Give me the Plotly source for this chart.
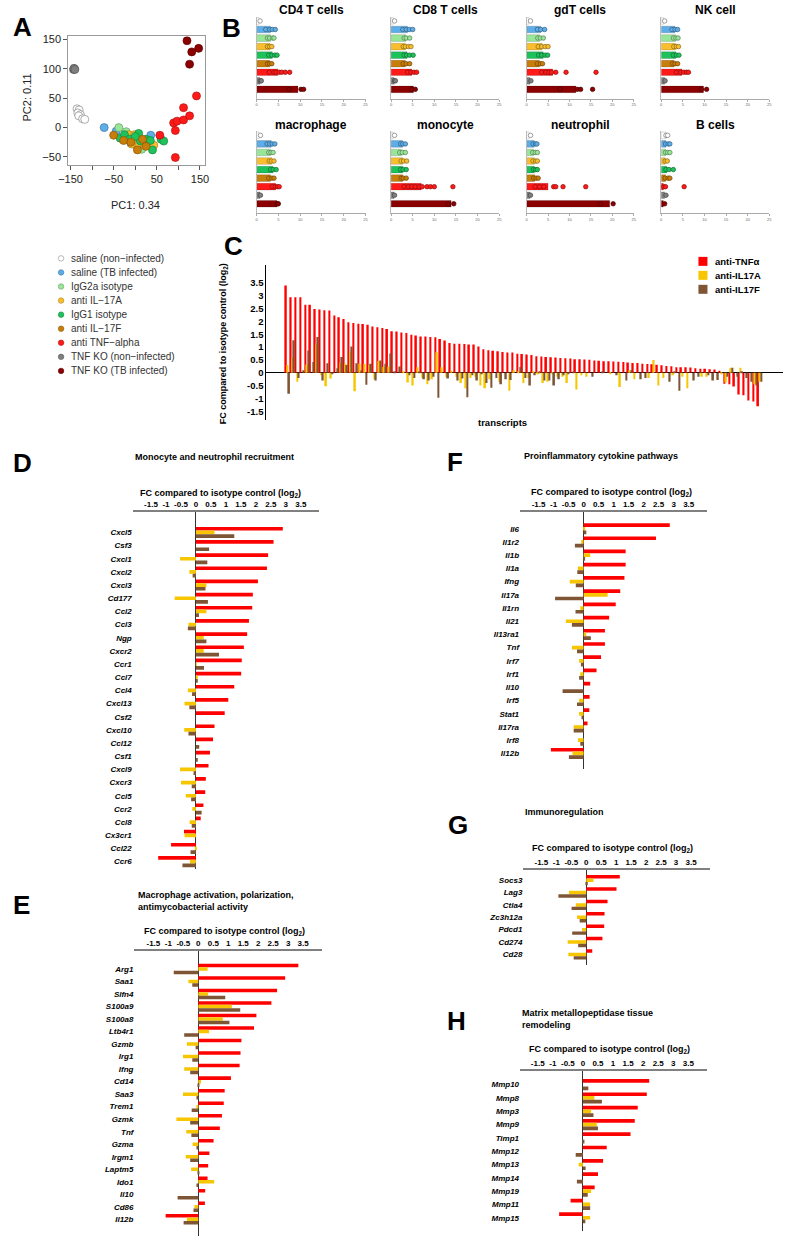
import plotly.graph_objects as go

W, H = 787, 1239
FONT = "Liberation Sans"

# ---------------- data ----------------
groups = ["saline (non−infected)", "saline (TB infected)", "IgG2a isotype", "anti IL−17A",
          "IgG1 isotype", "anti IL−17F", "anti TNF−alpha", "TNF KO (non−infected)",
          "TNF KO (TB infected)"]
group_colors = ["#FFFFFF", "#5DADE8", "#98E698", "#F8BE2E", "#1EC25A", "#C87E0A",
                "#FF1A1A", "#7F7F7F", "#8B0000"]

# Panel A: PCA scores per group
pc1 = [
    [-135, -130, -133, -127, -131, -122, -117],
    [-72, -44, 36, -10, 5, 10],
    [-38, -21, 15, 20, -5],
    [-23, -15, -2, 5, 12, 22, 43, -8, 28],
    [-35, -25, -13, 8, 12, 25, 35, 40, 60, 66, 0],
    [-50, -27, 5, 17, -10, 25],
    [57, 89, 97, 93, 112, 112, 126, 142, 93],
    [-143, -141, -142, -140],
    [120, 131, 147, 126],
]
pc2 = [
    [32, 30, 25, 22, 20, 15, 14],
    [0, -6, -13, -27, -33, -25],
    [0, -7, -37, -30, -20],
    [-18, -12, -12, -28, -22, -30, -30, -28, -25],
    [-18, -12, -20, -10, -23, -20, -22, -38, -20, -23, -15],
    [-13, -22, -38, -20, -25, -32],
    [-13, 8, 11, -5, 34, 13, 20, 54, -51],
    [99, 100, 101, 99],
    [148, 129, 135, 108],
]
pc_ticks_x = [-150, -50, 50, 150]
pc_ticktext_x = ["−150", "−50", "50", "150"]
pc_ticks_y = [-50, 0, 50, 100, 150]
pc_ticktext_y = ["−50", "0", "50", "100", "150"]

# Panel B: cell-type scores
cell_types = ["CD4 T cells", "CD8 T cells", "gdT cells", "NK cell",
              "macrophage", "monocyte", "neutrophil", "B cells"]
cell_means = [
    [0.6, 3.2, 3.2, 3.1, 3.6, 3.0, 4.9, 0.8, 9.5],
    [0.5, 3.8, 3.4, 3.3, 3.7, 3.3, 4.8, 0.7, 5.2],
    [0.5, 3.3, 3.0, 3.6, 3.9, 3.0, 6.1, 0.8, 11.5],
    [0.5, 3.2, 3.3, 3.3, 3.4, 3.0, 4.8, 0.8, 9.8],
    [0.6, 3.4, 3.2, 3.5, 3.8, 3.2, 4.4, 0.8, 4.7],
    [0.5, 2.7, 2.4, 2.7, 2.7, 2.7, 7.0, 0.7, 13.9],
    [0.6, 1.8, 1.6, 1.8, 1.8, 1.9, 5.0, 0.8, 19.4],
    [1.1, 1.1, 1.0, 0.9, 1.3, 1.0, 0.5, 0.8, 0.5],
]
cell_points = [
    [[0.8], [2.1, 3.0, 3.6, 4.3], [2.5, 3.0, 3.7, 4.0], [2.5, 3.0, 3.5], [2.8, 3.5, 4.2, 4.7],
     [2.5, 3.0, 3.5], [2.9, 4.0, 4.5, 5.2, 5.8, 6.6, 7.6], [0.9, 1.1], [7.5, 10.2, 10.8]],
    [[0.8], [2.7, 3.5, 4.2, 5.0], [3.0, 3.5, 4.3], [2.8, 3.3, 4.0, 4.6], [3.0, 3.6, 4.3, 5.1],
     [2.8, 3.5, 4.3], [3.8, 4.6, 5.3, 5.9], [0.8, 1.0], [4.8, 5.6]],
    [[0.9], [2.5, 3.3, 4.2], [2.6, 3.2, 3.9], [2.7, 3.5, 4.3, 5.0], [2.8, 3.5, 4.3, 4.9],
     [2.5, 3.2, 3.7], [3.5, 4.5, 5.2, 5.8, 6.8, 9.2, 16.2], [1.0], [7.8, 11.8, 12.6, 15.4]],
    [[0.8], [2.5, 3.2, 3.8], [2.8, 3.4, 3.9], [2.9, 3.5, 4.0], [2.8, 3.5, 4.1],
     [2.6, 3.2, 3.8], [3.5, 4.5, 5.2, 5.8, 6.3], [0.9], [9.3, 10.5]],
    [[0.9], [2.4, 3.0, 3.6, 4.2], [2.8, 3.3, 3.8], [2.9, 3.4, 4.0], [3.2, 3.8, 4.5],
     [2.8, 3.5, 4.0], [3.6, 4.3, 4.8, 5.2], [0.9], [4.8, 5.0]],
    [[0.8], [2.2, 2.7, 3.3], [2.0, 2.6, 3.3], [2.3, 2.9, 3.6], [2.2, 2.8, 3.5],
     [2.3, 2.8, 3.5], [3.0, 4.0, 4.8, 5.6, 6.5, 7.2, 8.3, 9.1, 10.0, 14.3], [0.8], [13.2, 14.5]],
    [[0.9], [1.5, 2.1, 2.4], [1.4, 2.0, 2.5], [1.5, 2.1, 2.5], [1.6, 2.1, 2.5],
     [1.6, 2.2, 2.7], [2.0, 3.0, 4.0, 6.3, 6.8, 8.5, 13.8], [0.9], [17.2, 20.2]],
    [[1.1, 1.5], [1.0, 1.6, 2.0], [1.0, 1.5, 2.0], [0.9, 1.4], [1.1, 1.8, 2.8],
     [0.9, 1.6, 2.0], [0.6, 1.0, 5.3], [1.1], [0.8]],
]
b_ticks = [0, 5, 10, 15, 20, 25]

# Panel C-H: treatments
treat_names = ["anti-TNFα", "anti-IL17A", "anti-IL17F"]
treat_colors = ["#FF0000", "#F7C600", "#7E5535"]

c_tnf = [3.40, 2.95, 2.95, 2.95, 2.65, 2.65, 2.49, 2.47, 2.44, 2.43, 2.23, 2.17, 2.10, 1.97,
         1.94, 1.91, 1.90, 1.87, 1.81, 1.78, 1.75, 1.71, 1.62, 1.61, 1.57, 1.55, 1.48, 1.45,
         1.42, 1.42, 1.40, 1.39, 1.32, 1.26, 1.16, 1.13, 1.13, 1.12, 1.10, 1.10, 1.03,
         0.92, 0.88, 0.86, 0.84, 0.81, 0.79, 0.79, 0.74, 0.73, 0.71, 0.69, 0.65, 0.64, 0.62,
         0.61, 0.60, 0.58, 0.57, 0.56, 0.53, 0.53, 0.52, 0.51, 0.48, 0.47, 0.45, 0.45, 0.44,
         0.43, 0.42, 0.40, 0.38, 0.38, 0.35, 0.34, 0.33, 0.31, 0.29, 0.27, 0.26, 0.22, 0.22,
         0.22, 0.21, 0.18, 0.16, 0.16, 0.14, 0.13, 0.08,
         -0.43, -0.45, -0.53, -0.85, -0.88, -1.08, -1.12, -1.30]
c_il17a = [0.3, 0.6, -0.35, 0.0, 0.32, 0.0, 1.1, -0.1, -0.52, -0.22, 0.0, 0.38, 0.35, 0.82,
           -0.72, 0.35, 0.35, 0.3, -0.25, 0.47, 0.23, 0.25, 0.0, 0.0, 0.05, -0.38, -0.5, 0.22,
           -0.2, -0.45, -0.25, 0.8, 0.22, -0.17, 0.08, -0.15, -0.4, -0.6, -0.2, -0.15, -0.5,
           -0.6, -0.25, 0.0, -0.35, 0.0, -0.7, 0.1, 0.05, -0.4, -0.2, 0.05, -0.05, -0.4, -0.35,
           -0.05, -0.15, -0.15, -0.4, 0.0, -0.65, -0.1, -0.15, 0.0, 0.0, 0.0, 0.0, -0.05, 0.0,
           -0.55, 0.0, 0.1, -0.25, 0.0, 0.0, -0.2, 0.5, -0.5, -0.2, 0.0, -0.1, 0.0, -0.15, -0.6,
           0.0, 0.0, -0.15, -0.15, 0.0, 0.0, -0.05, -0.38, 0.2, 0.0, 0.2, 0.0, 0.0, -0.45, -0.35]
c_il17f = [-0.82, 1.27, -0.2, 0.1, 0.87, 0.42, 1.4, -0.3, 0.37, -0.05, 0.18, 0.62, 0.3, 1.03,
           0.37, 0.1, -0.47, 0.35, -0.3, 0.48, 0.35, 0.75, 0.05, 0.25, 0.0, -0.1, -0.2, 0.05,
           -0.25, -0.3, -0.15, -0.97, 0.0, -0.22, 0.0, -0.3, -0.22, -0.95, -0.1, -0.3, -0.05,
           -0.4, -0.58, -0.2, -0.45, -0.25, -0.28, 0.0, 0.23, -0.2, -0.5, -0.1, 0.05, -0.3, -0.3,
           -0.5, -0.25, -0.1, -0.05, 0.05, 0.0, 0.0, 0.0, -0.15, 0.0, 0.03, 0.0, 0.0, -0.1, 0.0,
           -0.3, 0.1, 0.0, -0.25, -0.2, 0.0, 0.0, 0.0, 0.0, -0.35, 0.05, -0.7, 0.0, 0.0, -0.3,
           -0.15, 0.0, -0.1, -0.3, -0.28, 0.0, -0.15, 0.2, -0.15, 0.05, -0.2, -0.35, -0.5, -0.35]
c_ticks = [-1.5, -1, -0.5, 0, 0.5, 1, 1.5, 2, 2.5, 3, 3.5]
c_ticktext = ["-1.5", "-1", "-0.5", "0", "0.5", "1", "1.5", "2", "2.5", "3", "3.5"]

fc_ticks = [-1.5, -1, -0.5, 0, 0.5, 1, 1.5, 2, 2.5, 3, 3.5]
fc_ticktext = ["-1.5", "-1", "-0.5", "0", "0.5", "1", "1.5", "2", "2.5", "3", "3.5"]

d_genes = ["Cxcl5", "Csf3", "Cxcl1", "Cxcl2", "Cxcl3", "Cd177", "Ccl2", "Ccl3", "Ngp", "Cxcr2",
           "Ccr1", "Ccl7", "Ccl4", "Cxcl13", "Csf2", "Cxcl10", "Ccl12", "Csf1", "Cxcl9", "Cxcr3",
           "Ccl5", "Ccr2", "Ccl8", "Cx3cr1", "Ccl22", "Ccr6"]
d_tnf = [2.90, 2.59, 2.41, 2.37, 2.07, 1.90, 1.88, 1.77, 1.71, 1.60, 1.53, 1.51, 1.28, 1.08,
         0.96, 0.62, 0.57, 0.47, 0.42, 0.33, 0.31, 0.25, 0.16, -0.40, -0.83, -1.26]
d_il17a = [0.62, 0.0, -0.53, -0.22, 0.35, -0.71, 0.35, -0.25, 0.26, 0.26, 0.02, 0.04, -0.27,
           -0.38, 0.0, -0.39, 0.0, 0.0, -0.53, -0.50, -0.34, -0.12, -0.21, -0.38, -0.03, -0.20]
d_il17f = [1.28, 0.44, 0.38, -0.11, 0.32, 0.40, 0.10, -0.27, 0.35, 0.77, 0.27, 0.05, -0.13,
           -0.22, 0.0, -0.25, 0.11, 0.03, -0.08, -0.14, -0.16, 0.19, -0.14, 0.0, -0.18, -0.45]

e_genes = ["Arg1", "Saa1", "Slfn4", "S100a9", "S100a8", "Ltb4r1", "Gzmb", "Irg1", "Ifng", "Cd14",
           "Saa3", "Trem1", "Gzmk", "Tnf", "Gzma", "Irgm1", "Laptm5", "Ido1", "Il10", "Cd86", "Il12b"]
e_tnf = [3.34, 2.90, 2.63, 2.44, 1.94, 1.86, 1.44, 1.41, 1.38, 1.09, 0.88, 0.85, 0.79, 0.72,
         0.51, 0.37, 0.33, 0.31, 0.23, 0.22, -1.09]
e_il17a = [0.31, -0.33, 0.33, 1.12, 0.82, 0.36, -0.38, -0.51, -0.47, 0.09, -0.51, -0.05, -0.73,
           -0.40, -0.19, -0.42, -0.24, 0.53, 0.0, -0.13, -0.38]
e_il17f = [-0.82, -0.20, 0.90, 1.40, 1.04, -0.47, -0.09, -0.20, -0.27, 0.03, -0.05, -0.22, -0.27,
           -0.23, -0.05, -0.27, 0.03, -0.05, -0.69, -0.16, -0.49]

f_genes = ["Il6", "Il1r2", "Il1b", "Il1a", "Ifng", "Il17a", "Il1rn", "Il21", "Il13ra1", "Tnf",
           "Irf7", "Irf1", "Il10", "Irf5", "Stat1", "Il17ra", "Irf8", "Il12b"]
f_tnf = [2.87, 2.41, 1.40, 1.40, 1.36, 1.22, 1.07, 0.85, 0.71, 0.71, 0.58, 0.43, 0.22, 0.20,
         0.19, 0.13, 0.0, -1.09]
f_il17a = [0.05, -0.08, 0.22, -0.19, -0.46, 0.80, -0.11, -0.59, 0.09, -0.39, -0.15, -0.11, 0.0,
           -0.15, -0.15, -0.33, -0.19, -0.37]
f_il17f = [0.09, -0.29, 0.03, -0.21, -0.26, -0.95, -0.27, -0.39, 0.24, -0.22, -0.09, -0.15,
           -0.70, -0.22, -0.07, -0.33, -0.11, -0.49]

g_genes = ["Socs3", "Lag3", "Ctla4", "Zc3h12a", "Pdcd1", "Cd274", "Cd28"]
g_tnf = [1.12, 1.01, 0.71, 0.61, 0.60, 0.54, 0.20]
g_il17a = [0.24, -0.58, -0.35, -0.31, -0.14, -0.62, -0.60]
g_il17f = [0.05, -0.93, -0.49, -0.22, -0.47, -0.27, -0.42]

h_genes = ["Mmp10", "Mmp8", "Mmp3", "Mmp9", "Timp1", "Mmp12", "Mmp13", "Mmp14", "Mmp19",
           "Mmp11", "Mmp15"]
h_tnf = [2.20, 2.12, 1.82, 1.72, 1.58, 0.79, 0.67, 0.50, 0.39, -0.41, -0.79]
h_il17a = [0.0, 0.38, 0.27, 0.46, 0.0, 0.0, -0.14, 0.0, 0.27, 0.24, 0.24]
h_il17f = [0.18, 0.63, 0.35, 0.50, 0.05, -0.24, 0.09, -0.20, 0.16, 0.24, 0.08]


# ---------------- helpers ----------------
def xd(l, r):
    return [l / W, r / W]


def yd(t, b):
    return [1 - b / H, 1 - t / H]


def names(k):
    if k == 1:
        return "xaxis", "yaxis", "x", "y"
    return f"xaxis{k}", f"yaxis{k}", f"x{k}", f"y{k}"


def darker(c, f=0.6):
    r, g, b = int(c[1:3], 16), int(c[3:5], 16), int(c[5:7], 16)
    return f"rgb({int(r * f)},{int(g * f)},{int(b * f)})"


fig = go.Figure()
lay = dict(width=W, height=H, margin=dict(l=0, r=0, t=0, b=0), paper_bgcolor="white",
           plot_bgcolor="rgba(0,0,0,0)", showlegend=False, barmode="overlay",
           font=dict(family=FONT, color="black"))
annotations = []


def ann(text, x, y, size, bold=False, xanchor="center", yanchor="middle", angle=0,
        color="black", italic=False):
    annotations.append(dict(text=text, x=x / W, y=1 - y / H, xref="paper", yref="paper",
                            showarrow=False, xanchor=xanchor, yanchor=yanchor, textangle=angle,
                            font=dict(family=FONT, size=size, color=color,
                                      weight="bold" if bold else "normal",
                                      style="italic" if italic else "normal"),
                            align="left"))


# ---------------- Panel A ----------------
xa, ya, xr, yr = names(1)
lay[xa] = dict(domain=xd(59.3, 199), range=[-155.3, 162.8], anchor=yr, showline=True, mirror=True,
               linecolor="#9a9a9a", linewidth=1, ticks="outside", ticklen=4, tickcolor="#555",
               tickvals=pc_ticks_x, ticktext=pc_ticktext_x, tickfont=dict(size=11, color="#222"),
               minor=dict(tick0=0, dtick=100, ticks="outside", ticklen=4, tickcolor="#555",
                          showgrid=False),
               showgrid=False, zeroline=False)
lay[ya] = dict(domain=yd(33.3, 162.3), range=[-63.6, 155.7], anchor=xr, showline=True, mirror=True,
               linecolor="#9a9a9a", linewidth=1, ticks="outside", ticklen=4, tickcolor="#555",
               tickvals=pc_ticks_y, ticktext=pc_ticktext_y, tickfont=dict(size=11, color="#222"),
               showgrid=False, zeroline=False)
for gi, g in enumerate(groups):
    col = group_colors[gi]
    fig.add_trace(go.Scatter(x=pc1[gi], y=pc2[gi], mode="markers", name=g, xaxis=xr, yaxis=yr,
                             marker=dict(size=8, color=col,
                                         line=dict(color="#8a8a8a" if gi == 0 else darker(col, 0.7),
                                                   width=0.7)),
                             showlegend=False))
ann("PC1: 0.34", 128, 202, 11, color="#222")
ann("PC2: 0.11", 17, 95, 11, angle=-90, color="#222")

# legend for groups: swatches on hidden axes, labels as annotations
LEG_TOP, LEG_STEP = 256, 14.1
xa, ya, xr, yr = names(2)
lay[xa] = dict(domain=xd(48, 210), range=[-4, 158], visible=False)
lay[ya] = dict(domain=yd(LEG_TOP - LEG_STEP / 2, LEG_TOP + LEG_STEP * 8.5), range=[8.5, -0.5],
               visible=False)
gpos = list(range(len(groups)))
fig.add_trace(go.Scatter(x=[0] * len(groups), y=gpos, mode="markers", xaxis=xr, yaxis=yr,
                         cliponaxis=False,
                         marker=dict(size=5.5, color=group_colors,
                                     line=dict(color=["#8a8a8a"] + [darker(c, 0.7) for c in group_colors[1:]],
                                               width=0.6)),
                         showlegend=False))
for gi, g in enumerate(groups):
    ann(g, 60, LEG_TOP + LEG_STEP * gi, 10, xanchor="left", color="#333")

# ---------------- Panel B ----------------
b_cols = [(251, 362), (388, 498), (526, 635), (663, 773)]
b_rows = [(13.7, 96), (128.4, 210.7)]
b_title_y = [7, 122]
for j, ct in enumerate(cell_types):
    k = 3 + j
    r, c = divmod(j, 4)
    xa, ya, xr, yr = names(k)
    lay[xa] = dict(domain=xd(*b_cols[c]), range=[0, 25], anchor=yr, showline=True,
                   linecolor="#aaaaaa", linewidth=0.8, ticks="outside", ticklen=2, tickwidth=0.6,
                   tickcolor="#aaaaaa", tickvals=b_ticks, tickfont=dict(size=4, color="#666"),
                   showgrid=False, zeroline=False)
    lay[ya] = dict(domain=yd(*b_rows[r]), range=[9.1, -0.5], anchor=xr, showline=True,
                   linecolor="#bbbbbb", linewidth=0.8, showticklabels=False, ticks="",
                   showgrid=False, zeroline=False)
    fig.add_trace(go.Bar(x=cell_means[j], y=list(range(len(groups))), orientation="h", width=0.78,
                         marker=dict(color=group_colors, line=dict(color="rgba(0,0,0,0.3)", width=0.5)),
                         xaxis=xr, yaxis=yr, showlegend=False))
    px, py, pc, pl = [], [], [], []
    for gi in range(len(groups)):
        for v in cell_points[j][gi]:
            px.append(v)
            py.append(gi)
            pc.append(group_colors[gi])
            pl.append("#777777" if gi == 0 else darker(group_colors[gi], 0.55))
    fig.add_trace(go.Scatter(x=px, y=py, mode="markers", xaxis=xr, yaxis=yr, cliponaxis=False,
                             marker=dict(size=4.5, color=pc, line=dict(color=pl, width=0.7)),
                             showlegend=False))
    ann(ct, (b_cols[c][0] + b_cols[c][1]) / 2, b_title_y[r], 12, bold=True)

# ---------------- Panel C ----------------
xa, ya, xr, yr = names(11)
lay[xa] = dict(domain=xd(261, 787), range=[-4.40, 102.83], anchor=yr, showline=False,
               showticklabels=False, ticks="", showgrid=False, zeroline=False)
lay[ya] = dict(domain=yd(263, 418), range=[-1.84, 4.19], anchor=xr, showline=True,
               linecolor="black", linewidth=1, ticks="", tickvals=c_ticks, ticktext=c_ticktext,
               tickfont=dict(size=9.5, weight="bold"), showgrid=False, zeroline=True,
               zerolinecolor="black", zerolinewidth=1)
idx = list(range(len(c_tnf)))
for vals, col, off, nm in [(c_tnf, treat_colors[0], -0.495, treat_names[0]),
                           (c_il17a, treat_colors[1], -0.165, treat_names[1]),
                           (c_il17f, treat_colors[2], 0.165, treat_names[2])]:
    fig.add_trace(go.Bar(x=idx, y=vals, width=0.33, offset=off, name=nm,
                         marker=dict(color=col, line=dict(width=0)), xaxis=xr, yaxis=yr,
                         showlegend=False))
ann("FC compared to isotype control (log<sub>2</sub>)", 217, 342, 9, bold=True, angle=-90)
ann("transcripts", 501, 421, 9.5, bold=True)

# legend for treatments
CL_TOP, CL_STEP = 259, 14
xa, ya, xr, yr = names(12)
lay[xa] = dict(domain=xd(695, 787), range=[-10.5, 81.5], visible=False)
lay[ya] = dict(domain=yd(CL_TOP - CL_STEP / 2, CL_TOP + CL_STEP * 2.5), range=[2.5, -0.5],
               visible=False)
tpos = list(range(len(treat_names)))
fig.add_trace(go.Scatter(x=[0] * 3, y=tpos, mode="markers", xaxis=xr, yaxis=yr, cliponaxis=False,
                         marker=dict(symbol="square", size=9, color=treat_colors),
                         showlegend=False))
for ti, tn in enumerate(treat_names):
    ann(tn, 716, CL_TOP + CL_STEP * ti, 9.5, bold=True, xanchor="left")


# ---------------- Panels D-H ----------------
def hpanel(k, genes, tnf, a, f, xdom, ydom, first_y, spacing, w=0.28):
    xa, ya, xr, yr = names(k)
    top_px, bot_px = ydom
    r_top = (top_px - first_y) / spacing
    r_bot = (bot_px - first_y) / spacing
    lay[xa] = dict(domain=xd(*xdom[0]), range=xdom[1], anchor=yr, side="top", showline=True,
                   linecolor="#808080", linewidth=1.5, ticks="", tickvals=fc_ticks,
                   ticktext=fc_ticktext, tickfont=dict(size=8, weight="bold"), showgrid=False,
                   zeroline=True, zerolinecolor="#333333", zerolinewidth=1)
    lay[ya] = dict(domain=yd(top_px, bot_px), range=[r_bot, r_top], anchor=xr, showline=False,
                   ticks="", tickvals=list(range(len(genes))), ticktext=genes,
                   tickfont=dict(size=8, weight="bold", style="italic"), showgrid=False,
                   zeroline=False)
    pos = list(range(len(genes)))
    for vals, col, off in [(tnf, treat_colors[0], -1.5 * w), (a, treat_colors[1], -0.5 * w),
                           (f, treat_colors[2], 0.5 * w)]:
        fig.add_trace(go.Bar(x=vals, y=pos, orientation="h", width=w, offset=off,
                             marker=dict(color=col, line=dict(width=0)), xaxis=xr, yaxis=yr,
                             showlegend=False))


def xrng(l, r, zero, ppu):
    return [(l, r), [(l - zero) / ppu, (r - zero) / ppu]]


hpanel(13, d_genes, d_tnf, d_il17a, d_il17f, xrng(125, 315, 189.3, 30.5), (510, 868), 530.7, 13.2)
hpanel(14, e_genes, e_tnf, e_il17a, e_il17f, xrng(126.7, 317.3, 191.7, 30.5), (950, 1236), 968.3, 12.55)
hpanel(15, f_genes, f_tnf, f_il17a, f_il17f, xrng(519.3, 710, 584, 30.57), (510, 768.3), 527, 13.25)
hpanel(16, g_genes, g_tnf, g_il17a, g_il17f, xrng(522.7, 712.7, 586.7, 30.48), (868.7, 964.3), 879.3, 12.4)
hpanel(17, h_genes, h_tnf, h_il17a, h_il17f, xrng(519.3, 710, 583.3, 30.67), (1071, 1230.7), 1084.3, 13.34)

FC = "FC compared to isotype control (log<sub>2</sub>)"
ann("Monocyte and neutrophil recruitment", 125, 455, 9, bold=True, xanchor="left")
ann(FC, 214, 492, 9, bold=True)
ann("Macrophage activation, polarization,<br>antimycobacterial activity", 128, 900, 9, bold=True,
    xanchor="left")
ann(FC, 218, 931, 9, bold=True)
ann("Proinflammatory cytokine pathways", 521.7, 454.3, 9, bold=True, xanchor="left")
ann(FC, 612.5, 490.7, 9, bold=True)
ann("Immunoregulation", 522.7, 811, 9, bold=True, xanchor="left")
ann(FC, 613, 847.7, 9, bold=True)
ann("Matrix metallopeptidase tissue<br>remodeling", 519.3, 1018.3, 9, bold=True, xanchor="left")
ann(FC, 610, 1049.3, 9, bold=True)

# panel letters
for lt, x, y in [("A", 13, 24), ("B", 226, 25), ("C", 228, 244), ("D", 12.5, 461), ("E", 11.5, 904),
                 ("F", 453.5, 460), ("G", 456, 824), ("H", 454.5, 1020)]:
    ann(lt, x, y, 26, bold=True)

lay["annotations"] = annotations
fig.update_layout(**lay)
fig.write_html("out.html", config={"displayModeBar": False},
               post_script="document.body.style.margin='0';document.body.style.overflow='hidden';")
